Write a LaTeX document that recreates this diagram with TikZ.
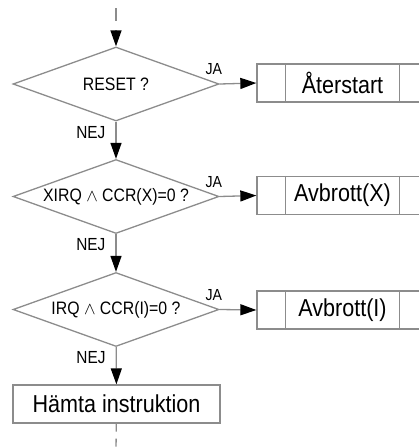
\documentclass[tikz,border=0pt]{standalone}
\usepackage{fontspec}
\setmainfont{Liberation Sans}[FakeStretch=0.88]
\usetikzlibrary{shapes.geometric,arrows.meta}
\definecolor{edgegray}{RGB}{140,140,140}

\begin{document}
\begin{tikzpicture}[
  x=1pt, y=-1pt,
  every node/.style={align=center, inner sep=0pt},
  test/.style={draw=edgegray, line width=1.3pt, diamond, aspect=2.78,
               minimum width=206pt, minimum height=74pt,
               font=\fontsize{18}{20}\selectfont},
  handler/.style={draw=edgegray, line width=1.3pt, minimum width=171pt,
                  minimum height=38pt, font=\fontsize{24.5}{26}\selectfont},
  action/.style={draw=edgegray, line width=1.3pt, minimum width=207pt,
                 minimum height=38pt, font=\fontsize{24.5}{26}\selectfont},
  arr/.style={-{Triangle[length=16pt, width=11pt, color=black]},
              draw=edgegray, line width=1.3pt},
  darr/.style={arr, dash pattern=on 13pt off 9pt},
  dline/.style={draw=edgegray, line width=1.3pt, dash pattern=on 8pt off 7pt},
  yes/.style={at start, anchor=south east, xshift=3pt, yshift=8.5pt,
              font=\fontsize{16}{18}\selectfont},
  no/.style={at start, anchor=north east, xshift=-10pt, yshift=-4pt,
             font=\fontsize{17.5}{19}\selectfont}
]
  \useasboundingbox (0,0) rectangle (419,448);

  \coordinate (in) at (116,8);
  \node[test] (d1) at (116,84) {RESET ?};
  \node[test] (d2) at (116,196.5) {XIRQ $\wedge$ CCR(X)=0 ?};
  \node[test] (d3) at (116,309.5) {IRQ $\wedge$ CCR(I)=0 ?};
  \node[action] (fetch) at (116.5,404) {Hämta instruktion};
  \coordinate (out) at (116,452);

  \node[handler] (h1) at (342.5,83) {Återstart};
  \node[handler] (h2) at (342.5,195.5) {Avbrott(X)};
  \node[handler] (h3) at (342.5,310) {Avbrott(I)};

  \foreach \h in {h1,h2,h3}{
    \draw[edgegray, line width=1.3pt] ([xshift=29pt]\h.north west) -- ([xshift=29pt]\h.south west);
    \draw[edgegray, line width=1.3pt] ([xshift=-29pt]\h.north east) -- ([xshift=-29pt]\h.south east);
  }

  \draw[darr] (in) -- (d1);
  \draw[arr] (d1) -- node[no]{NEJ} (d2);
  \draw[arr] (d2) -- node[no]{NEJ} (d3);
  \draw[arr] (d3) -- node[no]{NEJ} (fetch);
  \draw[dline] (fetch) -- (out);

  \draw[arr] (d1.east) -- node[yes]{JA} (h1.west);
  \draw[arr] (d2.east) -- node[yes]{JA} (h2.west);
  \draw[arr] (d3.east) -- node[yes]{JA} (h3.west);
\end{tikzpicture}
\end{document}
